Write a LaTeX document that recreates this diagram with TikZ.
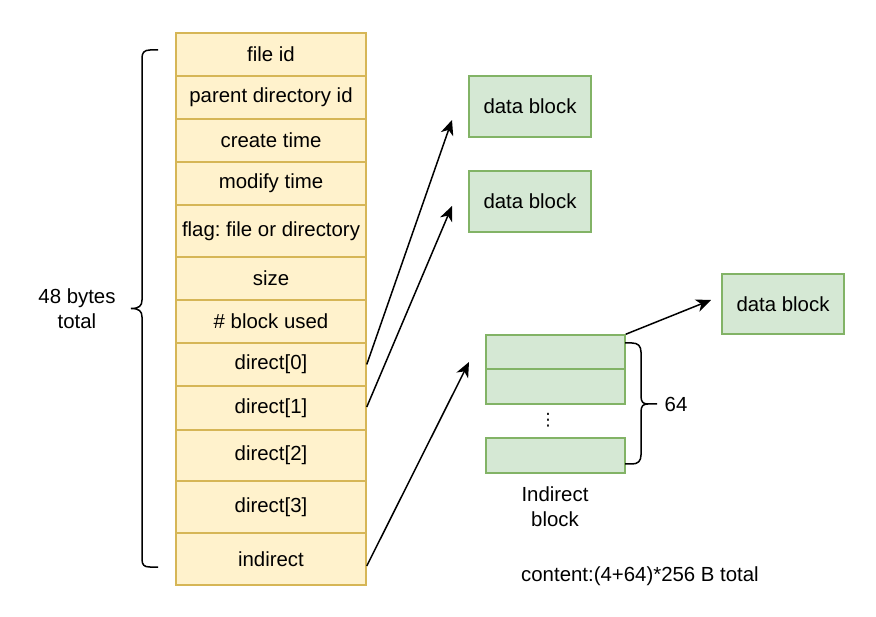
\documentclass[tikz,border=0pt]{standalone}
\usepackage{fontspec}
\setmainfont{Liberation Sans}
\newfontfamily\dejavu{DejaVu Sans}
\usetikzlibrary{arrows.meta}
\definecolor{yfill}{HTML}{FFF2CC}
\definecolor{ydraw}{HTML}{D6B656}
\definecolor{gfill}{HTML}{D5E8D4}
\definecolor{gdraw}{HTML}{82B366}
\frenchspacing
\begin{document}
\begin{tikzpicture}[x=1pt,y=-1pt,
  font=\fontsize{20.4}{25}\selectfont,
  cell/.style={draw=ydraw, fill=yfill, line width=1.5pt, inner sep=0pt, minimum width=190pt},
  gbox/.style={draw=gdraw, fill=gfill, line width=1.5pt, inner sep=0pt},
  arr/.style={line width=1.5pt, -{Stealth[length=15pt,width=13pt,inset=4.5pt]}},
  brace/.style={line width=1.5pt},
  lbl/.style={inner sep=0pt, align=center}]
\useasboundingbox (0,0) rectangle (876,617);
% table
\node[cell, minimum height=43pt] (r1) at (271,54.5) {file id};
\node[cell, minimum height=43pt] (r2) at (271,97.5) {parent directory id};
\node[cell, minimum height=43pt] (r3) at (271,140.5) {create time};
\node[cell, minimum height=43pt] (r4) at (271,183.5) {modify time};
\node[cell, minimum height=52pt] (r5) at (271,231) {flag: file or directory};
\node[cell, minimum height=43pt] (r6) at (271,278.5) {size};
\node[cell, minimum height=43pt] (r7) at (271,321.5) {\# block used};
\node[cell, minimum height=43pt] (r8) at (271,364.5) {direct[0]};
\node[cell, minimum height=44pt] (r9) at (271,408) {direct[1]};
\node[cell, minimum height=51pt] (r10) at (271,455.5) {direct[2]};
\node[cell, minimum height=52pt] (r11) at (271,507) {direct[3]};
\node[cell, minimum height=52pt] (r12) at (271,559) {indirect};
% data blocks
\node[gbox, minimum width=122pt, minimum height=61pt] (d1) at (530,106.5) {data block};
\node[gbox, minimum width=122pt, minimum height=61pt] (d2) at (530,201.5) {data block};
\node[gbox, minimum width=122pt, minimum height=60pt] (d3) at (783,304) {data block};
% indirect block
\node[gbox, minimum width=139pt, minimum height=34pt] (i1) at (555.5,352) {};
\node[gbox, minimum width=139pt, minimum height=35pt] (i2) at (555.5,386.5) {};
\node[gbox, minimum width=139pt, minimum height=35pt] (i3) at (555.5,455.5) {};
\node[inner sep=0pt, font=\dejavu\fontsize{17}{17}\selectfont] (dots) at (548,420) {⋮};
% labels
\node[lbl] (tot) at (77,308.5) {48 bytes\\total};
\node[lbl] (n64) at (676,404) {64};
\node[lbl] (ib) at (555,506.5) {Indirect\\block};
\node[lbl, anchor=west] (cont) at (521,576) {content:(4+64)*256 B total};
% arrow end points
\coordinate (a1) at (452,120);
\coordinate (a2) at (452,206);
\coordinate (a3) at (469,362);
\coordinate (a4) at (711,300);
\draw[arr] (r8.east) -- (a1);
\draw[arr] ([yshift=1pt]r9.east) -- (a2);
\draw[arr] ([yshift=-7pt]r12.east) -- (a3);
\draw[arr] (i1.north east) -- (a4);
% left brace
\draw[brace] (158,50) -- (150,50) .. controls (144,50) and (142,53) .. (142,58)
  -- (142,300) .. controls (142,306) and (139,308.5) .. (131,308.5)
  .. controls (139,308.5) and (142,311) .. (142,317)
  -- (142,559) .. controls (142,565) and (144,567) .. (150,567) -- (158,567);
% right brace
\draw[brace] (625,343) -- (632,343) .. controls (638,343) and (641,346) .. (641,352)
  -- (641,396) .. controls (641,402) and (643,404) .. (648,404) -- (657,404);
\draw[brace] (648,404) .. controls (643,404) and (641,406) .. (641,412)
  -- (641,455) .. controls (641,461) and (638,464) .. (632,464) -- (625,464);
\end{tikzpicture}
\end{document}
